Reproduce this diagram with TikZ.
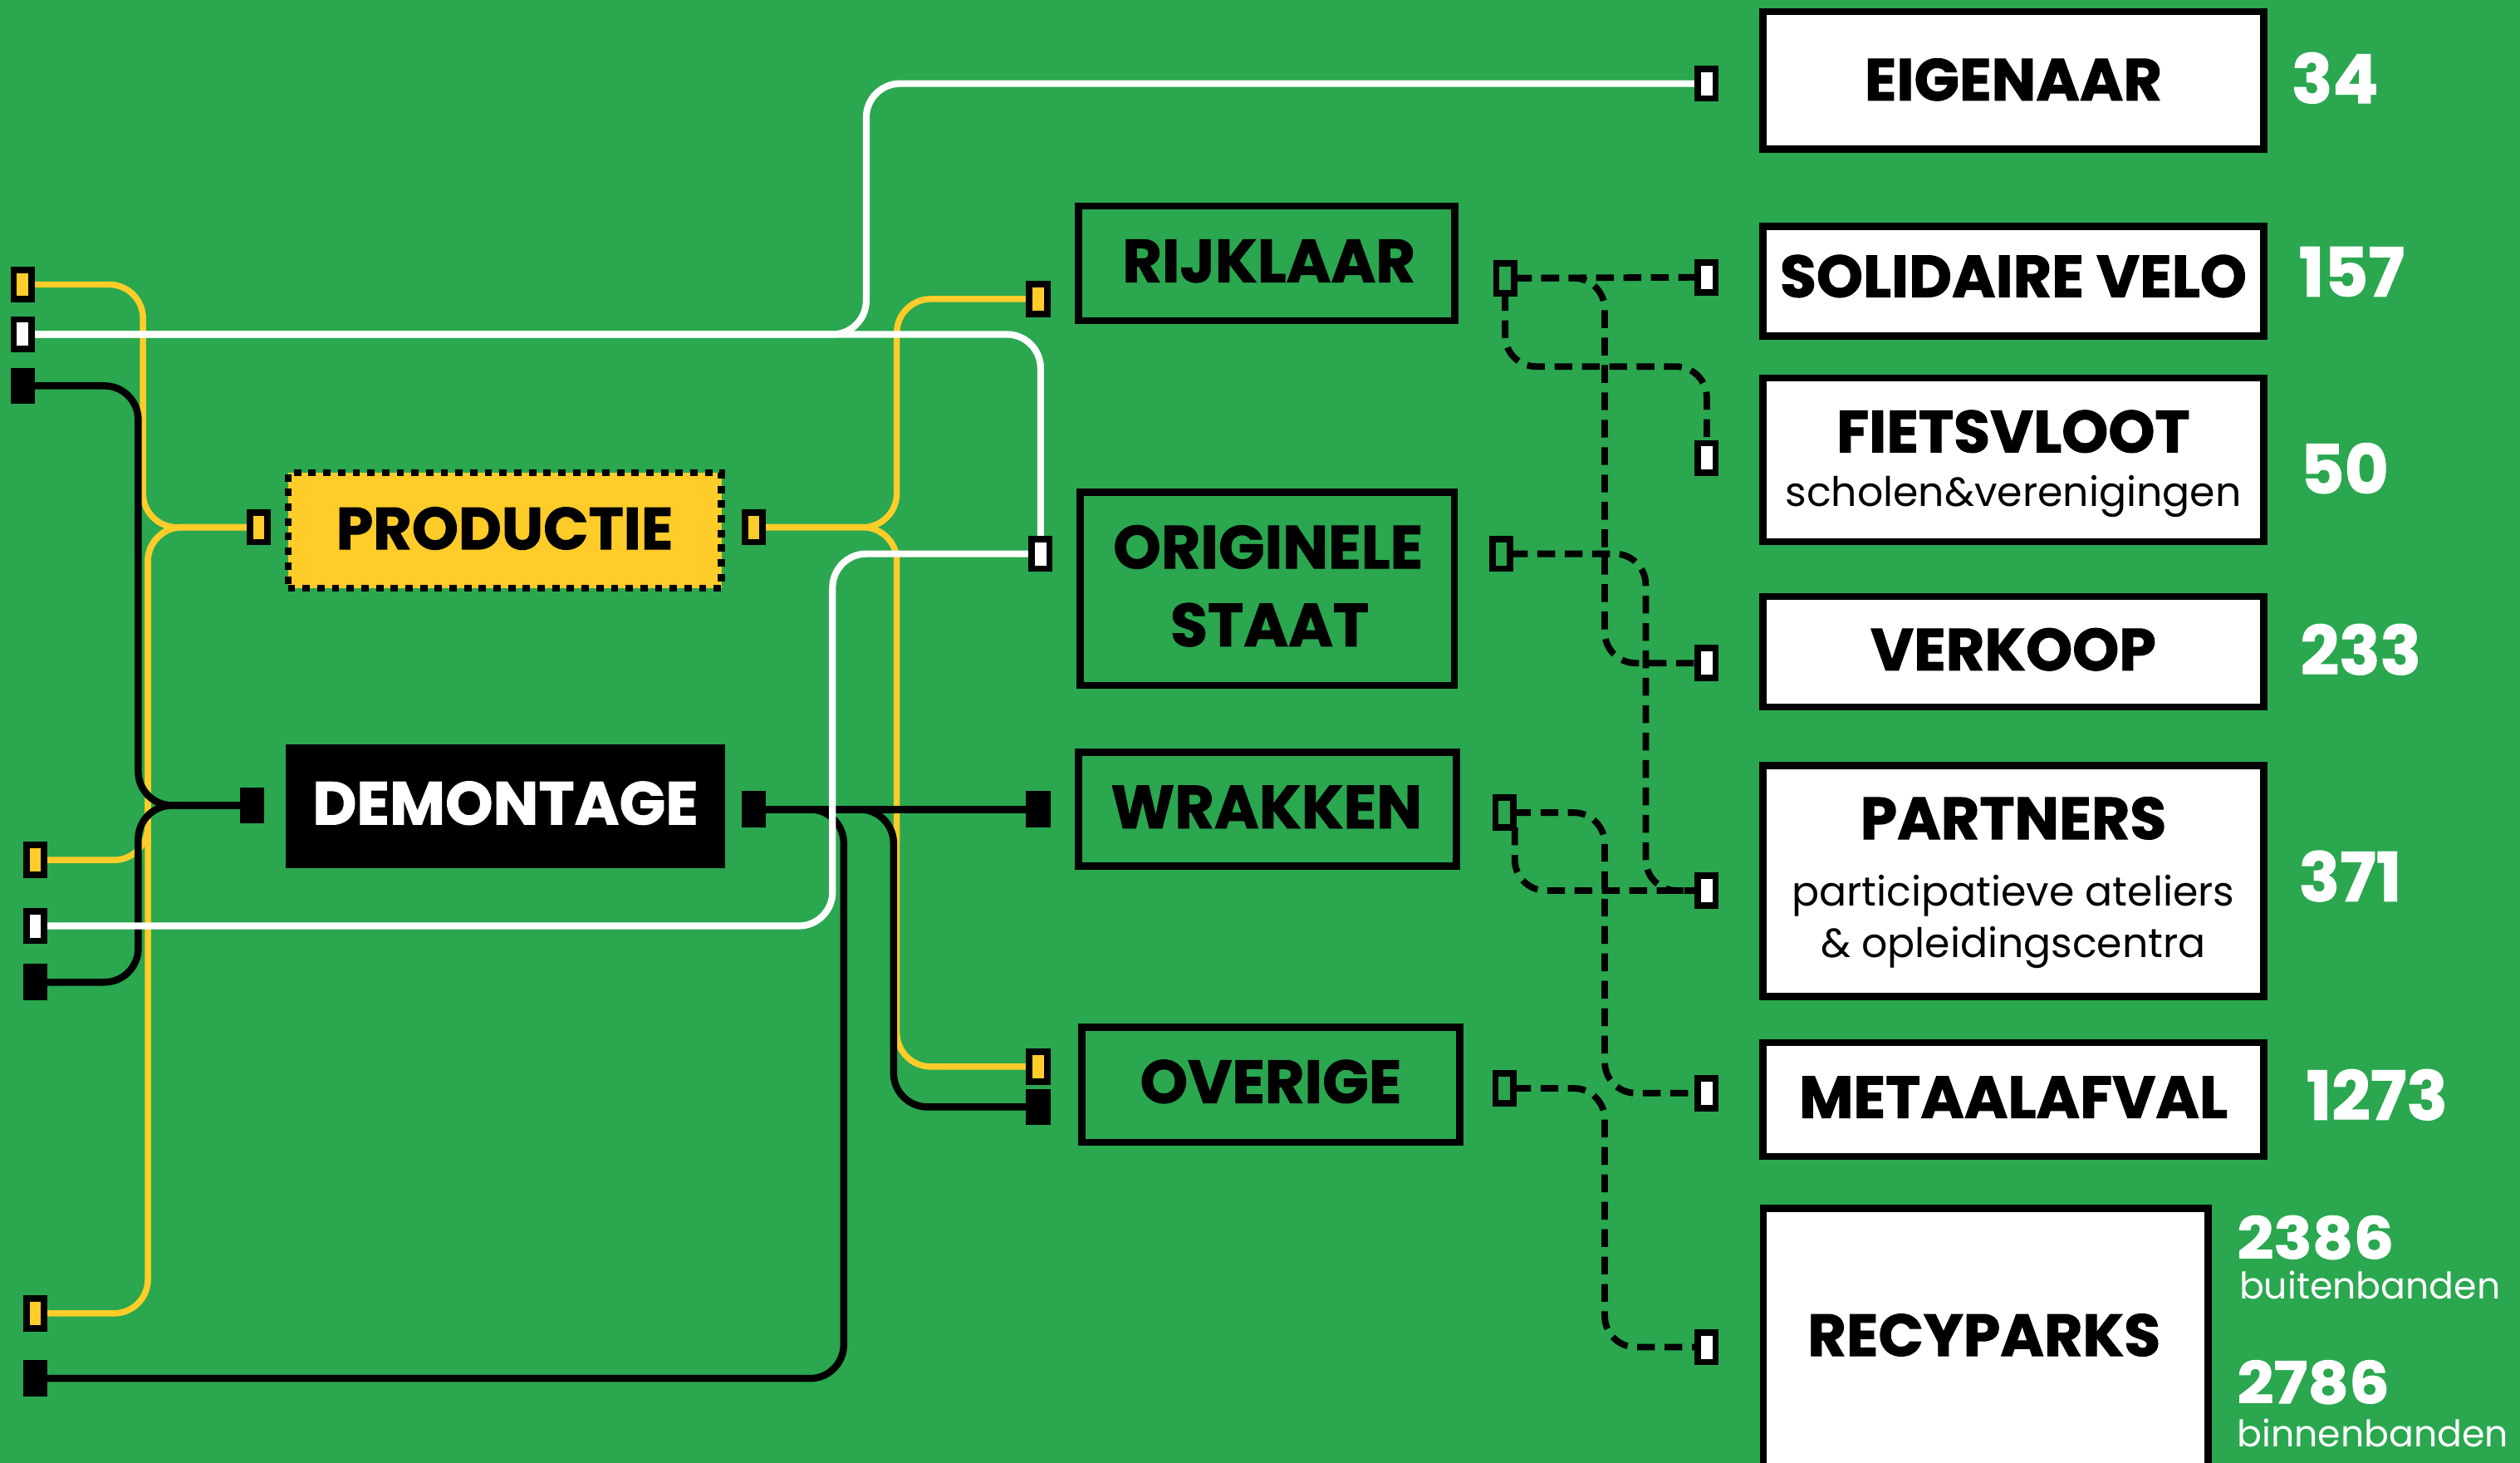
\documentclass[tikz,border=0pt]{standalone}
\usepackage{fontspec}
\setmainfont{Poppins}[BoldFeatures={FakeBold=1.3}]
\newfontfamily\numfont{Poppins}[FakeStretch=1.1,BoldFeatures={FakeBold=1.3}]
\usetikzlibrary{calc}
\definecolor{bg}{RGB}{42,167,79}
\definecolor{yel}{RGB}{255,204,41}
\pgfdeclarelayer{bgfill}
\pgfdeclarelayer{lines}
\pgfsetlayers{bgfill,lines,main}
\begin{document}
\begin{tikzpicture}[x=0.02cm,y=-0.02cm,
  port/.style={draw=black,line width=2.3pt,minimum width=0.22cm,minimum height=0.37cm,inner sep=0pt,outer sep=0pt},
  pY/.style={port,fill=yel},
  pW/.style={port,fill=white},
  pB/.style={port,fill=black},
  pG/.style={port,fill=bg},
  yline/.style={draw=yel,line width=2.2pt,rounded corners=12pt},
  wline/.style={draw=white,line width=2.4pt,rounded corners=12pt},
  bline/.style={draw=black,line width=2.5pt,rounded corners=12pt},
  dline/.style={draw=black,line width=2.3pt,dash pattern=on 6.3pt off 3.4pt,rounded corners=11pt},
  rbox/.style={draw=black,fill=white,line width=2.5pt,minimum width=6.235cm,inner sep=0pt},
  mbox/.style={draw=black,line width=2.5pt,inner sep=0pt},
  ttl/.style={font=\fontsize{21}{23}\selectfont\bfseries,inner sep=0pt},
  mttl/.style={font=\fontsize{21.5}{23}\selectfont\bfseries,inner sep=0pt},
  sub/.style={font=\fontsize{14.4}{16}\selectfont,inner sep=0pt},
  num/.style={font=\fontsize{24}{26}\selectfont\bfseries,text=white,inner sep=0pt,anchor=west},
  num2/.style={font=\numfont\fontsize{20.5}{22}\selectfont\bfseries,text=white,inner sep=0pt,anchor=west},
  numsub/.style={font=\fontsize{13}{15}\selectfont,text=white,inner sep=0pt,anchor=west}
]
\useasboundingbox (0,0) rectangle (1568,910);
\begin{pgfonlayer}{bgfill}
\fill[bg] (0,0) rectangle (1568,910);
\end{pgfonlayer}
\clip (0,0) rectangle (1568,910);

% ---------- right column boxes ----------
\node[rbox,minimum height=1.715cm] (eig) at (1252.7,50) {};
\node[ttl] (eigT) at (1252.7,49.5) {EIGENAAR};
\node[rbox,minimum height=1.365cm] (sol) at (1252.7,175) {};
\node[ttl] (solT) at (1252.7,171.8) {SOLIDAIRE VELO};
\node[rbox,minimum height=2.035cm] (fiets) at (1252.7,286) {};
\node[ttl,anchor=base] (fietsT) at (1252.7,281.4) {FIETSVLOOT};
\node[sub,anchor=base] (fietsS) at (1252.7,314.8) {scholen\&verenigingen};
\node[rbox,minimum height=1.375cm] (verk) at (1252.7,405.5) {};
\node[ttl] (verkT) at (1252.7,404) {VERKOOP};
\node[rbox,minimum height=2.875cm] (part) at (1252.7,548) {};
\node[ttl,anchor=base] (partT) at (1252.7,522) {PARTNERS};
\node[sub,anchor=base] (partS1) at (1252.7,563.8) {participatieve ateliers};
\node[sub,anchor=base] (partS2) at (1252.7,595.5) {\& opleidingscentra};
\node[rbox,minimum height=1.415cm] (meta) at (1252.7,684) {};
\node[ttl] (metaT) at (1252.7,682.5) {METAALAFVAL};
\node[rbox,minimum width=5.535cm,minimum height=3.27cm] (recy) at (1235.5,833.5) {};
\node[ttl] (recyT) at (1234.5,830.5) {RECYPARKS};

% numbers
\node[num] (n34) at (1425.5,48.5) {34};
\node[num] (n157) at (1430,169) {157};
\node[num] (n50) at (1431,291.3) {50};
\node[num] (n233) at (1431,404) {233};
\node[num] (n371) at (1430,545) {371};
\node[num] (n1273) at (1434.6,681) {1273};
\node[num2,anchor=base west] (n2386) at (1391.7,783) {2386};
\node[numsub,anchor=base west] (nbb) at (1393,808) {buitenbanden};
\node[num2,anchor=base west] (n2786) at (1391.7,873) {2786};
\node[numsub,anchor=base west] (nib) at (1391.7,900) {binnenbanden};

% ---------- middle column ----------
\node[mbox,minimum width=4.685cm,minimum height=1.427cm] (rij) at (788.2,163.8) {};
\node[mttl] (rijT) at (789.5,162.4) {RIJKLAAR};
\node[mbox,minimum width=4.655cm,minimum height=2.405cm] (orig) at (788.5,366.3) {};
\node[mttl,anchor=base] (origT1) at (789,353.6) {ORIGINELE};
\node[mttl,anchor=base] (origT2) at (790,402) {STAAT};
\node[mbox,minimum width=4.705cm,minimum height=1.415cm] (wrak) at (788.7,503.3) {};
\node[mttl] (wrakT) at (788,502) {WRAKKEN};
\node[mbox,minimum width=4.705cm,minimum height=1.435cm] (over) at (790.8,674.8) {};
\node[mttl] (overT) at (790.7,672.8) {OVERIGE};

% ---------- left column ----------
\node[draw=black,fill=yel,line width=2.4pt,dash pattern=on 2.6pt off 2.6pt,minimum width=5.396cm,minimum height=1.436cm,inner sep=0pt] (prod) at (314,330) {};
\node[mttl,font=\fontsize{21}{23}\selectfont\bfseries] (prodT) at (314,328.7) {PRODUCTIE};
\node[fill=black,minimum width=5.46cm,minimum height=1.54cm,inner sep=0pt] (demo) at (314.5,501.5) {};
\node[mttl,text=white] (demoT) at (314.5,499.6) {DEMONTAGE};

% ---------- ports ----------
\node[pY] (L1) at (14,177) {};
\node[pW] (L2) at (14,208) {};
\node[pB] (L3) at (14,240) {};
\node[pY] (L4) at (22,535) {};
\node[pW] (L5) at (22,576) {};
\node[pB] (L6) at (22,611) {};
\node[pY] (L7) at (22,817) {};
\node[pB] (L8) at (22,857.5) {};
\node[pY] (prodL) at (161,328) {};
\node[pY] (prodR) at (469,328) {};
\node[pB] (demoL) at (157,501) {};
\node[pB] (demoR) at (469,503.5) {};
\node[pY] (rijL) at (646,186) {};
\node[pW] (origL) at (647.5,344.5) {};
\node[pB] (wrakL) at (646,503.5) {};
\node[pY] (overLY) at (646,663.5) {};
\node[pB] (overLB) at (646,688.6) {};
\node[pG] (rijR) at (936.5,173) {};
\node[pG] (origR) at (934,344.5) {};
\node[pG] (wrakR) at (936,505.5) {};
\node[pG] (overR) at (936,677) {};
\node[pW] (eigP) at (1062,52) {};
\node[pW] (solP) at (1062,172.5) {};
\node[pW] (fietsP) at (1062,285) {};
\node[pW] (verkP) at (1062,412.5) {};
\node[pW] (partP) at (1062,554) {};
\node[pW] (metaP) at (1062,680) {};
\node[pW] (recyP) at (1062,838) {};

% ---------- connectors ----------
\begin{pgfonlayer}{lines}
% yellow
\draw[yline] (L1.east) -| (89,328) -- (prodL.west);
\draw[yline] (L4.east) -| (92,328) -- (prodL.west);
\draw[yline] (L7.east) -| (92,328) -- (prodL.west);
\draw[yline] (prodR.east) -| (558,186) -- (rijL.west);
\draw[yline] (prodR.east) -| (558,663.5) -- (overLY.west);
% black
\draw[bline] (L3.east) -| (86,501) -- (demoL.west);
\draw[bline] (L6.east) -| (86,501) -- (demoL.west);
\draw[bline] (demoR.east) -- (wrakL.west);
\draw[bline] (demoR.east) -| (525,857.5) -- (L8.east);
\draw[bline] (demoR.east) -| (556,688.6) -- (overLB.west);
% white
\draw[wline] (L2.east) -| (539,52) -- (eigP.west);
\draw[wline] (L2.east) -| (origL.north);
\draw[wline] (L5.east) -| (518,344.5) -- (origL.west);
% dashed
\draw[dline] (rijR.east) -- (solP.west);
\draw[dline] (rijR.east) -| (998.5,412.5) -- (verkP.west);
\draw[dline] (rijR.south) |- (1062,228) -- (fietsP.north);
\draw[dline] (origR.east) -| (1024,554) -- (partP.west);
\draw[dline] (wrakR.east) -| (998.5,680) -- (metaP.west);
\draw[dline] ([xshift=0.13cm]wrakR.south) |- (partP.west);
\draw[dline] (overR.east) -| (998.5,838) -- (recyP.west);
\end{pgfonlayer}
\end{tikzpicture}
\end{document}
